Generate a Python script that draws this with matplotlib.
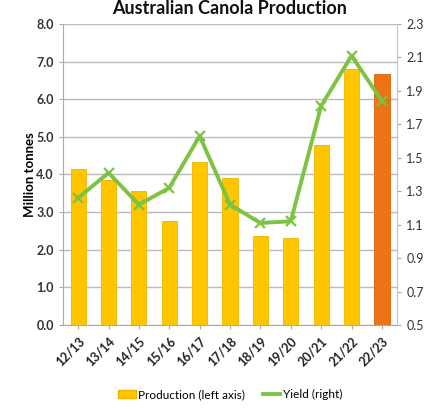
import matplotlib
matplotlib.use("Agg")
import matplotlib.pyplot as plt
from matplotlib.lines import Line2D
from matplotlib.patches import Patch

plt.rcParams['font.family'] = ['Lato', 'DejaVu Sans']

seasons = ["12/13", "13/14", "14/15", "15/16", "16/17", "17/18",
           "18/19", "19/20", "20/21", "21/22", "22/23"]
production = [4.14, 3.86, 3.55, 2.77, 4.33, 3.90, 2.37, 2.31, 4.79, 6.81, 6.68]
yield_t_ha = [1.26, 1.41, 1.22, 1.32, 1.63, 1.22, 1.11, 1.12, 1.81, 2.11, 1.84]

left_ticks = [0, 1, 2, 3, 4, 5, 6, 7, 8]
right_ticks = [0.5, 0.7, 0.9, 1.1, 1.3, 1.5, 1.7, 1.9, 2.1, 2.3]

bar_col = "#FFC600"
fcst_col = "#EC7414"
line_col = "#7DC242"

fig = plt.figure(figsize=(4.34, 4.09), dpi=100)
ax = fig.add_axes([0.145, 0.2054, 0.77, 0.736])
x = list(range(len(seasons)))
colors = [bar_col] * (len(seasons) - 1) + [fcst_col]
ax.bar(x, production, width=0.5, color=colors, zorder=2,
       edgecolor=["#F0B400"] * (len(seasons) - 1) + ["#D86208"], linewidth=0.6)
ax.set_ylim(0, 8)
ax.set_xlim(-0.5, len(seasons) - 0.5)
ax.set_yticks(left_ticks)
ax.set_yticklabels([f"{v:.1f}" for v in left_ticks], fontsize=9, fontweight='bold',
                   color="#333333")
ax.yaxis.grid(True, color="#BBBBBB", linewidth=1.0, zorder=0)
ax.set_axisbelow(True)
ax.set_xticks(x)
ax.set_xticklabels(seasons, rotation=45, ha='right', rotation_mode='anchor',
                   fontsize=9, fontweight='bold', color="#222222")
ax.tick_params(axis='x', length=3, color="#AAAAAA", pad=4)
ax.tick_params(axis='y', length=3, color="#AAAAAA")
for s in ['top', 'right']:
    ax.spines[s].set_visible(False)
ax.spines['left'].set_color("#AAAAAA")
ax.spines['bottom'].set_color("#AAAAAA")
ax.set_ylabel("Million tonnes", fontsize=9.5, fontweight='bold', labelpad=0)

ax2 = ax.twinx()
ax2.plot(x, yield_t_ha, color=line_col, linewidth=2.8, marker='x',
         markersize=7, markeredgewidth=1.6, zorder=3)
ax2.set_ylim(0.5, 2.3)
ax2.set_yticks(right_ticks)
ax2.set_yticklabels([f"{v:.1f}" for v in right_ticks], fontsize=9, color="#333333")
ax2.tick_params(axis='y', length=3, color="#AAAAAA")
for s in ['top', 'left', 'bottom']:
    ax2.spines[s].set_visible(False)
ax2.spines['right'].set_color("#DDBBAA")

fig.text(0.53, 1.0, "Australian Canola Production", ha='center', va='top',
         fontsize=13, fontweight='bold', color="#111111")

handles = [Patch(facecolor=bar_col, edgecolor="#F0B400", label="Production (left axis)"),
           Line2D([0], [0], color=line_col, linewidth=2.8, label="Yield (right)")]
fig.legend(handles=handles, loc='center', bbox_to_anchor=(0.53, 0.035), ncol=2,
           frameon=False, fontsize=8.5, handlelength=1.5, handletextpad=0.2,
           columnspacing=1.5)

fig.savefig("out.png", dpi=100)
